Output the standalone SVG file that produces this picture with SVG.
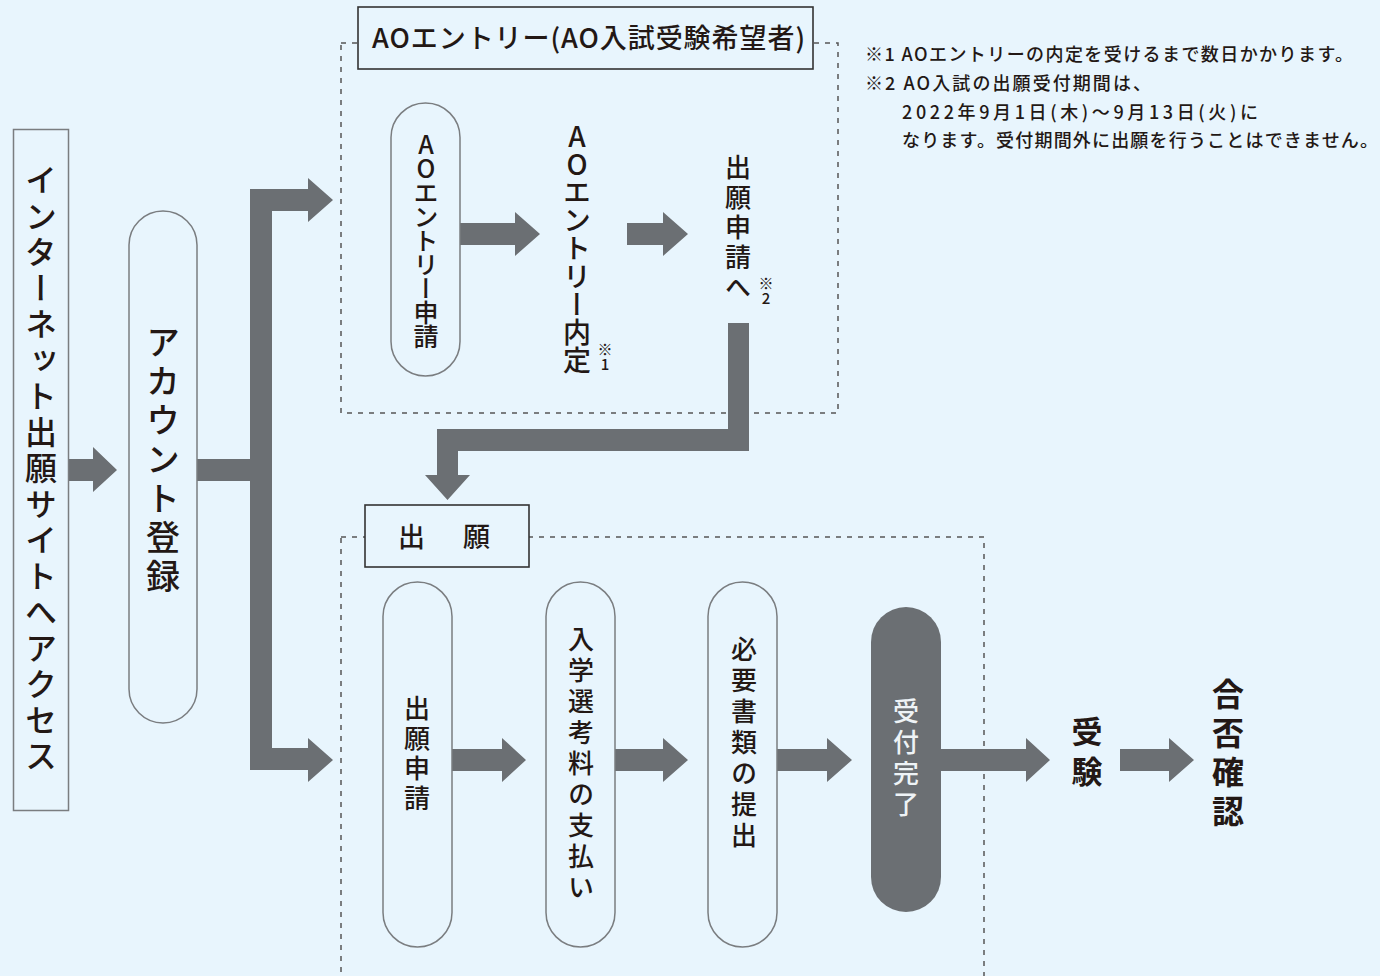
<svg xmlns="http://www.w3.org/2000/svg" width="1380" height="976" viewBox="0 0 1380 976">
<defs>
<style>
text{font-family:"Noto Sans CJK JP","Noto Sans CJK SC",sans-serif;fill:#231815;font-weight:500;}
.v{writing-mode:vertical-rl;text-orientation:upright;text-anchor:middle;}
.pill{fill:none;stroke:#7a7d80;stroke-width:1.5;}
.title{fill:#E8F5FD;stroke:#333;stroke-width:1.6;}
.dash{fill:none;stroke:#555;stroke-width:1.5;stroke-dasharray:5 6;}
.arrow{fill:#6B6F73;}
.note{font-size:18px;}
.b{font-weight:bold;}
</style>
</defs>
<rect x="0" y="0" width="1380" height="976" fill="#E8F5FD"/>

<g id="frames">
<rect class="dash" x="341" y="43" width="497" height="370"/>
<rect class="dash" x="341" y="537" width="643" height="460"/>
</g>

<g id="connectors">
<polygon class="arrow" points="69,459 93,459 93,447 117,470 93,492 93,481 69,481"/>
<polygon class="arrow" points="197,459 250,459 250,189 308,189 308,178 333,200 308,222 308,211 272,211 272,748 308,748 308,738 333,760 308,782 308,770 250,770 250,481 197,481"/>
<polygon class="arrow" points="460,223 515,223 515,212 540,234 515,256 515,245 460,245"/>
<polygon class="arrow" points="627,223 663,223 663,212 688,234 663,256 663,245 627,245"/>
<polygon class="arrow" points="728,323 749,323 749,451 458,451 458,475 470,475 447.5,500 425,475 437,475 437,429 728,429"/>
<polygon class="arrow" points="452,749 502,749 502,738 526,760 502,782 502,771 452,771"/>
<polygon class="arrow" points="615,749 663,749 663,738 688,760 663,782 663,771 615,771"/>
<polygon class="arrow" points="777,749 827,749 827,738 852,760 827,782 827,771 777,771"/>
<polygon class="arrow" points="941,749 1026,749 1026,738 1050,760 1026,782 1026,771 941,771"/>
<polygon class="arrow" points="1120,749 1169,749 1169,738 1194,760 1169,782 1169,771 1120,771"/>
</g>

<g id="node-access">
<rect x="13.5" y="129.5" width="55" height="681" fill="none" stroke="#7a7d80" stroke-width="1.5"/>
<text class="v" x="41" y="470" font-size="32" letter-spacing="4">インターネット出願サイトへアクセス</text>
</g>

<g id="node-account">
<rect class="pill" x="129" y="211" width="68" height="512" rx="34" ry="34"/>
<text class="v" x="163" y="462" font-size="34" letter-spacing="5">アカウント登録</text>
</g>

<g id="node-ao-title">
<rect class="title" x="358" y="7" width="455" height="62"/>
<text x="372" y="48" font-size="27" textLength="433" lengthAdjust="spacing">AOエントリー(AO入試受験希望者)</text>
</g>

<g id="node-ao-apply">
<rect class="pill" x="391" y="103" width="69" height="273" rx="34.5" ry="34.5"/>
<text class="v" x="426" y="240" font-size="25" letter-spacing="-1">AOエントリー申請</text>
</g>

<g id="node-ao-naitei">
<text class="v" x="577" y="248" font-size="28">AOエントリー内定</text>
<text class="v" x="605" y="357" font-size="15">※1</text>
</g>

<g id="node-to-apply">
<text class="v" x="738" y="229" font-size="26" letter-spacing="4">出願申請へ</text>
<text class="v" x="766" y="291" font-size="15">※2</text>
</g>

<g id="notes">
<text class="note" x="865" y="61" textLength="488" lengthAdjust="spacing">※1 AOエントリーの内定を受けるまで数日かかります。</text>
<text class="note" x="865" y="90" textLength="286" lengthAdjust="spacing">※2 AO入試の出願受付期間は、</text>
<text class="note" x="902" y="119" textLength="356" lengthAdjust="spacing">2022年9月1日(木)～9月13日(火)に</text>
<text class="note" x="902" y="147" textLength="476" lengthAdjust="spacing">なります。受付期間外に出願を行うことはできません。</text>
</g>

<g id="node-shutsugan-title">
<rect class="title" x="365" y="505" width="164" height="62"/>
<text x="398" y="547" font-size="27" letter-spacing="5.5">出　願</text>
</g>

<g id="node-apply">
<rect class="pill" x="383" y="582" width="69" height="365" rx="34.5" ry="34.5"/>
<text class="v" x="417" y="755" font-size="26" letter-spacing="4">出願申請</text>
</g>

<g id="node-fee">
<rect class="pill" x="546" y="582" width="69" height="365" rx="34.5" ry="34.5"/>
<text class="v" x="581" y="766" font-size="26" letter-spacing="5">入学選考料の支払い</text>
</g>

<g id="node-docs">
<rect class="pill" x="708" y="582" width="69" height="365" rx="34.5" ry="34.5"/>
<text class="v" x="744" y="745" font-size="26" letter-spacing="5">必要書類の提出</text>
</g>

<g id="node-done">
<rect x="871" y="607" width="70" height="305" rx="35" ry="35" fill="#6B6F73"/>
<text class="v" x="906" y="760" font-size="26" letter-spacing="5" style="fill:#EEF3F6">受付完了</text>
</g>

<g id="node-exam">
<text class="v b" x="1087" y="756" font-size="31" letter-spacing="9">受験</text>
</g>

<g id="node-result">
<text class="v b" x="1228" y="756" font-size="32" letter-spacing="7">合否確認</text>
</g>
</svg>
